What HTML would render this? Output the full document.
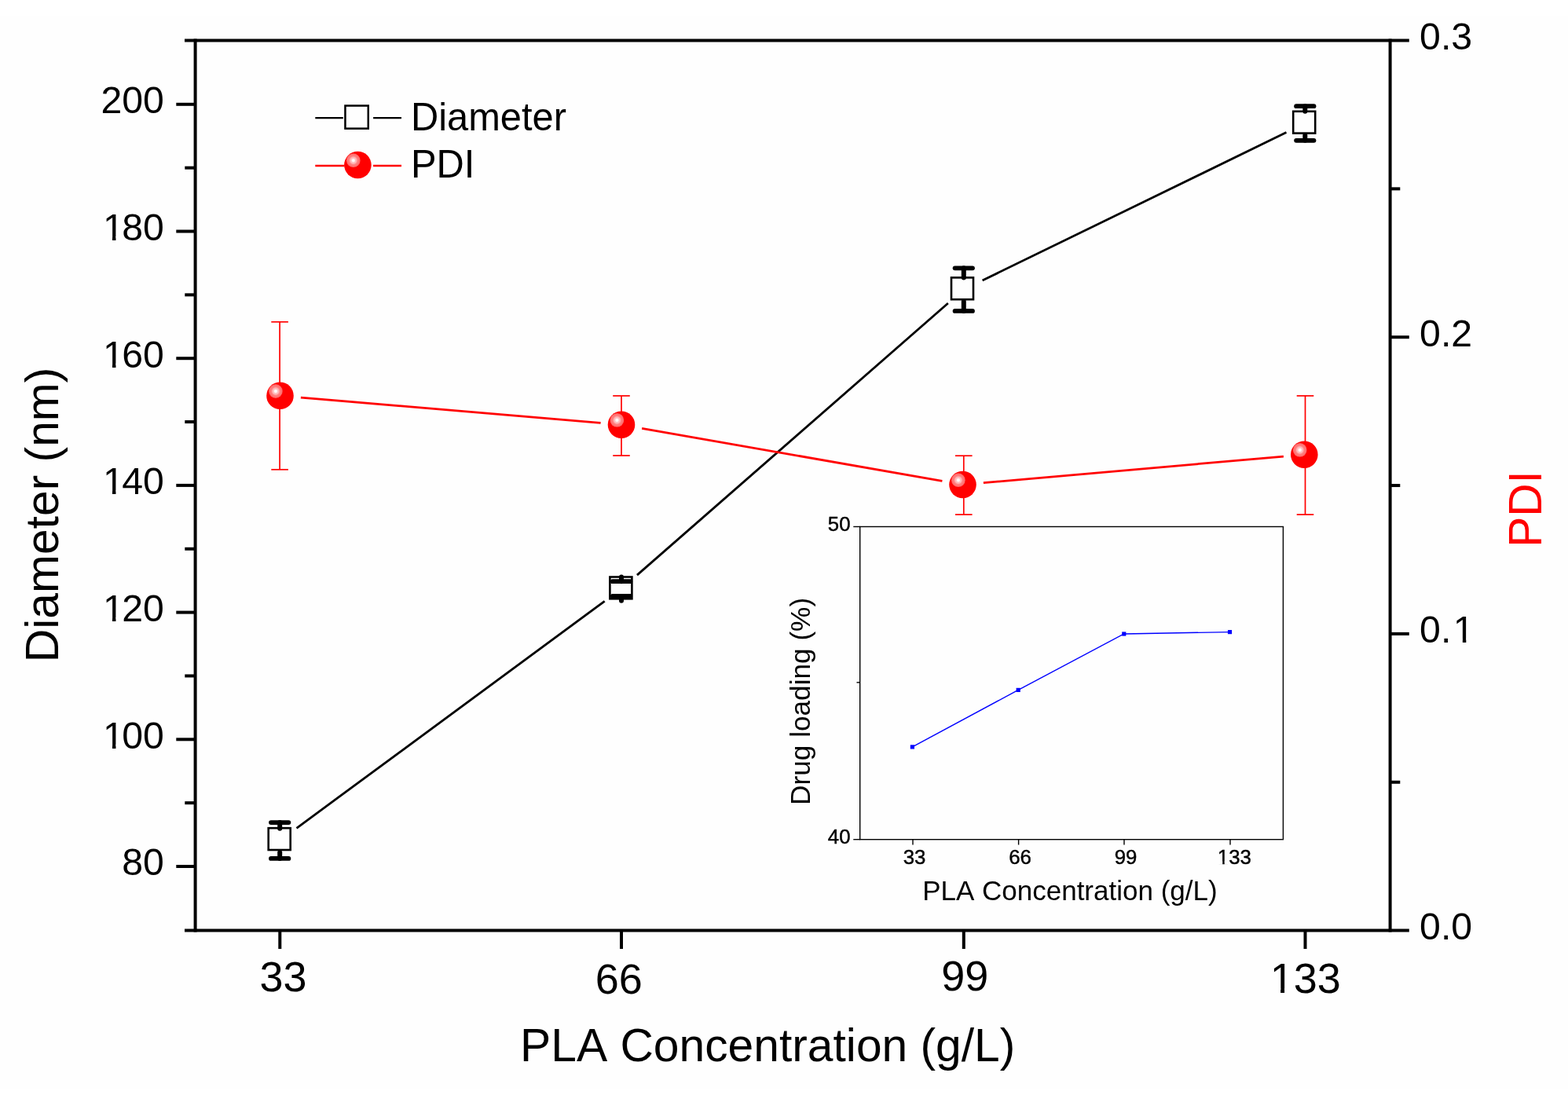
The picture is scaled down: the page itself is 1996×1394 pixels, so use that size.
<!DOCTYPE html>
<html><head><meta charset="utf-8"><title>PLA Concentration chart</title>
<style>
html,body{margin:0;padding:0;background:#fefefe;}
svg{display:block;}
text{font-family:"Liberation Sans", Arial, Helvetica, sans-serif;font-kerning:none;font-feature-settings:"kern" 0;}
</style></head>
<body>
<svg width="1996" height="1394" viewBox="0 0 1996 1394">
<defs>
<radialGradient id="hl" cx="0.5" cy="0.5" r="0.5">
<stop offset="0" stop-color="#ffffff"/>
<stop offset="0.18" stop-color="#fff4f4"/>
<stop offset="0.3" stop-color="#ffc4c4"/>
<stop offset="0.48" stop-color="#ffb0b0"/>
<stop offset="0.58" stop-color="#ff8484"/>
<stop offset="0.92" stop-color="#ff6c6c"/>
<stop offset="1" stop-color="#ff4a4a"/>
</radialGradient>
</defs>
<rect x="0" y="0" width="1996" height="1394" fill="#fefefe"/>
<rect x="0" y="0" width="1996" height="20" fill="#ffffff"/>
<rect x="0" y="1386" width="1996" height="8" fill="#ffffff"/>
<line x1="248.6" y1="49.5" x2="248.6" y2="1186.6" stroke="#000" stroke-width="4" stroke-linecap="butt"/>
<line x1="1769.6" y1="49.5" x2="1769.6" y2="1186.6" stroke="#000" stroke-width="4" stroke-linecap="butt"/>
<line x1="235" y1="51.5" x2="1793.8" y2="51.5" stroke="#000" stroke-width="4" stroke-linecap="butt"/>
<line x1="235" y1="1184.6" x2="1793.8" y2="1184.6" stroke="#000" stroke-width="4" stroke-linecap="butt"/>
<line x1="224.3" y1="1103" x2="248.6" y2="1103" stroke="#000" stroke-width="4" stroke-linecap="butt"/>
<line x1="224.3" y1="941.3" x2="248.6" y2="941.3" stroke="#000" stroke-width="4" stroke-linecap="butt"/>
<line x1="224.3" y1="779.6" x2="248.6" y2="779.6" stroke="#000" stroke-width="4" stroke-linecap="butt"/>
<line x1="224.3" y1="617.9" x2="248.6" y2="617.9" stroke="#000" stroke-width="4" stroke-linecap="butt"/>
<line x1="224.3" y1="456.2" x2="248.6" y2="456.2" stroke="#000" stroke-width="4" stroke-linecap="butt"/>
<line x1="224.3" y1="294.5" x2="248.6" y2="294.5" stroke="#000" stroke-width="4" stroke-linecap="butt"/>
<line x1="224.3" y1="132.8" x2="248.6" y2="132.8" stroke="#000" stroke-width="4" stroke-linecap="butt"/>
<line x1="235.3" y1="1022.15" x2="248.6" y2="1022.15" stroke="#000" stroke-width="4" stroke-linecap="butt"/>
<line x1="235.3" y1="860.45" x2="248.6" y2="860.45" stroke="#000" stroke-width="4" stroke-linecap="butt"/>
<line x1="235.3" y1="698.75" x2="248.6" y2="698.75" stroke="#000" stroke-width="4" stroke-linecap="butt"/>
<line x1="235.3" y1="537.05" x2="248.6" y2="537.05" stroke="#000" stroke-width="4" stroke-linecap="butt"/>
<line x1="235.3" y1="375.35" x2="248.6" y2="375.35" stroke="#000" stroke-width="4" stroke-linecap="butt"/>
<line x1="235.3" y1="213.65" x2="248.6" y2="213.65" stroke="#000" stroke-width="4" stroke-linecap="butt"/>
<line x1="1769.6" y1="806.9" x2="1793.8" y2="806.9" stroke="#000" stroke-width="4" stroke-linecap="butt"/>
<line x1="1769.6" y1="429.2" x2="1793.8" y2="429.2" stroke="#000" stroke-width="4" stroke-linecap="butt"/>
<line x1="1769.6" y1="995.75" x2="1782.3" y2="995.75" stroke="#000" stroke-width="4" stroke-linecap="butt"/>
<line x1="1769.6" y1="618.05" x2="1782.3" y2="618.05" stroke="#000" stroke-width="4" stroke-linecap="butt"/>
<line x1="1769.6" y1="240.35" x2="1782.3" y2="240.35" stroke="#000" stroke-width="4" stroke-linecap="butt"/>
<line x1="356.3" y1="1184.6" x2="356.3" y2="1208" stroke="#000" stroke-width="4" stroke-linecap="butt"/>
<line x1="791" y1="1184.6" x2="791" y2="1208" stroke="#000" stroke-width="4" stroke-linecap="butt"/>
<line x1="1226.8" y1="1184.6" x2="1226.8" y2="1208" stroke="#000" stroke-width="4" stroke-linecap="butt"/>
<line x1="1661.5" y1="1184.6" x2="1661.5" y2="1208" stroke="#000" stroke-width="4" stroke-linecap="butt"/>
<text x="155.27" y="1114.3" font-size="48.2" text-anchor="start" fill="#000">80</text>
<text x="128.46" y="952.6" font-size="48.2" text-anchor="start" fill="#000" dx="2.5 -2.5 0">100</text>
<text x="128.46" y="790.9" font-size="48.2" text-anchor="start" fill="#000" dx="2.5 -2.5 0">120</text>
<text x="128.46" y="629.2" font-size="48.2" text-anchor="start" fill="#000" dx="2.5 -2.5 0">140</text>
<text x="128.46" y="467.5" font-size="48.2" text-anchor="start" fill="#000" dx="2.5 -2.5 0">160</text>
<text x="128.46" y="305.8" font-size="48.2" text-anchor="start" fill="#000" dx="2.5 -2.5 0">180</text>
<text x="128.46" y="144.1" font-size="48.2" text-anchor="start" fill="#000">200</text>
<text x="1807.12" y="1195.95" font-size="48.2" text-anchor="start" fill="#000">0.0</text>
<text x="1807.12" y="818.25" font-size="48.2" text-anchor="start" fill="#000" dx="0 0 2.5">0.1</text>
<text x="1807.12" y="440.55" font-size="48.2" text-anchor="start" fill="#000">0.2</text>
<text x="1807.12" y="62.85" font-size="48.2" text-anchor="start" fill="#000">0.3</text>
<text x="330.48" y="1262.4" font-size="54" text-anchor="start" fill="#000">33</text>
<text x="757.73" y="1264.7" font-size="54" text-anchor="start" fill="#000">66</text>
<text x="1198.23" y="1261.4" font-size="54" text-anchor="start" fill="#000">99</text>
<text x="1616.63" y="1263.5" font-size="54" text-anchor="start" fill="#000">133</text>
<text x="662.08" y="1350.6" font-size="58.75" text-anchor="start" fill="#000">PLA Concentration (g/L)</text>
<text transform="translate(74.2,843.3) rotate(-90)" font-size="58.8" text-anchor="start" fill="#000">Diameter (nm)</text>
<text transform="translate(1961.5,696.7) rotate(-90) scale(0.9804,1)" font-size="59.67" fill="#ff0000">PDI</text>
<line x1="401.3" y1="150.1" x2="436.8" y2="150.1" stroke="#000" stroke-width="2.2" stroke-linecap="butt"/>
<line x1="475.1" y1="150.1" x2="511" y2="150.1" stroke="#000" stroke-width="2.2" stroke-linecap="butt"/>
<rect x="439.45" y="134.55" width="29.3" height="29.1" fill="none" stroke="#000" stroke-width="2.5"/>
<line x1="401.3" y1="210.9" x2="438.5" y2="210.9" stroke="#ff0000" stroke-width="2.5" stroke-linecap="butt"/>
<line x1="475.1" y1="210.9" x2="511" y2="210.9" stroke="#ff0000" stroke-width="2.5" stroke-linecap="butt"/>
<text transform="translate(523,166.4) scale(0.9804,1)" font-size="49.78" fill="#000">Diameter</text>
<text transform="translate(523,226) scale(0.9804,1)" font-size="49.78" fill="#000">PDI</text>
<rect x="1094.7" y="670.5" width="538.7" height="398.2" fill="none" stroke="#000" stroke-width="1.4"/>
<line x1="1086.3" y1="670.5" x2="1094.7" y2="670.5" stroke="#000" stroke-width="1.4" stroke-linecap="butt"/>
<line x1="1086.3" y1="1068.7" x2="1094.7" y2="1068.7" stroke="#000" stroke-width="1.4" stroke-linecap="butt"/>
<line x1="1090.5" y1="868.8" x2="1094.7" y2="868.8" stroke="#000" stroke-width="1.4" stroke-linecap="butt"/>
<line x1="1162" y1="1068.7" x2="1162" y2="1075.5" stroke="#000" stroke-width="1.4" stroke-linecap="butt"/>
<line x1="1296.6" y1="1068.7" x2="1296.6" y2="1075.5" stroke="#000" stroke-width="1.4" stroke-linecap="butt"/>
<line x1="1431" y1="1068.7" x2="1431" y2="1075.5" stroke="#000" stroke-width="1.4" stroke-linecap="butt"/>
<line x1="1566" y1="1068.7" x2="1566" y2="1075.5" stroke="#000" stroke-width="1.4" stroke-linecap="butt"/>
<text x="1082.5" y="675.6" font-size="25.8" text-anchor="end" fill="#000" stroke="#000" stroke-width="0.45">50</text>
<text x="1082.5" y="1073.7" font-size="25.8" text-anchor="end" fill="#000" stroke="#000" stroke-width="0.45">40</text>
<text x="1149.73" y="1099.8" font-size="25.8" text-anchor="start" fill="#000" stroke="#000" stroke-width="0.45">33</text>
<text x="1284.16" y="1099.8" font-size="25.8" text-anchor="start" fill="#000" stroke="#000" stroke-width="0.45">66</text>
<text x="1418.66" y="1099.8" font-size="25.8" text-anchor="start" fill="#000" stroke="#000" stroke-width="0.45">99</text>
<text x="1549.86" y="1099.8" font-size="25.8" text-anchor="start" fill="#000" stroke="#000" stroke-width="0.45">133</text>
<text x="1174.13" y="1145.7" font-size="35" text-anchor="start" fill="#000">PLA Concentration (g/L)</text>
<text transform="translate(1030.6,1024.9) rotate(-90)" font-size="35.2" text-anchor="start" fill="#000">Drug loading (%)</text>
<polyline points="1161.4,950.9 1296.2,878.4 1430.8,807 1565.5,804.6" fill="none" stroke="#0000ff" stroke-width="1.4"/>
<rect x="1158.8" y="948.3" width="5.2" height="5.2" fill="#0000ff"/>
<rect x="1293.6" y="875.8" width="5.2" height="5.2" fill="#0000ff"/>
<rect x="1428.2" y="804.4" width="5.2" height="5.2" fill="#0000ff"/>
<rect x="1562.9" y="802" width="5.2" height="5.2" fill="#0000ff"/>
<line x1="377.53" y1="1054.28" x2="769.67" y2="765.32" stroke="#000" stroke-width="2.8" stroke-linecap="butt"/>
<line x1="810.95" y1="732.16" x2="1206.85" y2="386.04" stroke="#000" stroke-width="2.8" stroke-linecap="butt"/>
<line x1="1250.62" y1="357" x2="1637.48" y2="168.6" stroke="#000" stroke-width="2.8" stroke-linecap="butt"/>
<rect x="341.7" y="1054.2" width="28" height="27.8" fill="none" stroke="#000" stroke-width="2.6"/>
<line x1="356.2" y1="1047.1" x2="356.2" y2="1054.8" stroke="#000" stroke-width="6" stroke-linecap="round"/>
<line x1="356.2" y1="1092.9" x2="356.2" y2="1085.2" stroke="#000" stroke-width="6" stroke-linecap="round"/>
<line x1="345" y1="1047.1" x2="367.4" y2="1047.1" stroke="#000" stroke-width="5.8" stroke-linecap="round"/>
<line x1="345" y1="1092.9" x2="367.4" y2="1092.9" stroke="#000" stroke-width="5.8" stroke-linecap="round"/>
<rect x="776.4" y="734.5" width="28" height="27.8" fill="none" stroke="#000" stroke-width="2.6"/>
<line x1="791" y1="740.2" x2="791" y2="734.4" stroke="#000" stroke-width="6" stroke-linecap="round"/>
<line x1="791" y1="759" x2="791" y2="764.8" stroke="#000" stroke-width="6" stroke-linecap="round"/>
<line x1="779.8" y1="740.2" x2="802.2" y2="740.2" stroke="#000" stroke-width="5.8" stroke-linecap="round"/>
<line x1="779.8" y1="759" x2="802.2" y2="759" stroke="#000" stroke-width="5.8" stroke-linecap="round"/>
<rect x="1211" y="353.4" width="28" height="27.8" fill="none" stroke="#000" stroke-width="2.6"/>
<line x1="1226.8" y1="341.3" x2="1226.8" y2="353.4" stroke="#000" stroke-width="6" stroke-linecap="round"/>
<line x1="1226.8" y1="395.9" x2="1226.8" y2="383.8" stroke="#000" stroke-width="6" stroke-linecap="round"/>
<line x1="1215.6" y1="341.3" x2="1238" y2="341.3" stroke="#000" stroke-width="5.8" stroke-linecap="round"/>
<line x1="1215.6" y1="395.9" x2="1238" y2="395.9" stroke="#000" stroke-width="5.8" stroke-linecap="round"/>
<rect x="1646.2" y="141.8" width="28" height="27.8" fill="none" stroke="#000" stroke-width="2.6"/>
<line x1="1661.3" y1="135.2" x2="1661.3" y2="141.8" stroke="#000" stroke-width="6" stroke-linecap="round"/>
<line x1="1661.3" y1="178.8" x2="1661.3" y2="172.2" stroke="#000" stroke-width="6" stroke-linecap="round"/>
<line x1="1650.1" y1="135.2" x2="1672.5" y2="135.2" stroke="#000" stroke-width="5.8" stroke-linecap="round"/>
<line x1="1650.1" y1="178.8" x2="1672.5" y2="178.8" stroke="#000" stroke-width="5.8" stroke-linecap="round"/>
<line x1="382.9" y1="506.04" x2="764.6" y2="538.46" stroke="#ff0000" stroke-width="2.8" stroke-linecap="butt"/>
<line x1="817.1" y1="545.28" x2="1199.4" y2="612.42" stroke="#ff0000" stroke-width="2.8" stroke-linecap="butt"/>
<line x1="1251.9" y1="614.67" x2="1633.9" y2="581.03" stroke="#ff0000" stroke-width="2.8" stroke-linecap="butt"/>
<line x1="356.1" y1="409.8" x2="356.1" y2="597.8" stroke="#ff0000" stroke-width="1.7" stroke-linecap="butt"/>
<line x1="345.3" y1="409.8" x2="366.9" y2="409.8" stroke="#ff0000" stroke-width="1.7" stroke-linecap="butt"/>
<line x1="345.3" y1="597.8" x2="366.9" y2="597.8" stroke="#ff0000" stroke-width="1.7" stroke-linecap="butt"/>
<line x1="791" y1="503.9" x2="791" y2="580" stroke="#ff0000" stroke-width="1.7" stroke-linecap="butt"/>
<line x1="780.2" y1="503.9" x2="801.8" y2="503.9" stroke="#ff0000" stroke-width="1.7" stroke-linecap="butt"/>
<line x1="780.2" y1="580" x2="801.8" y2="580" stroke="#ff0000" stroke-width="1.7" stroke-linecap="butt"/>
<line x1="1226.8" y1="580.2" x2="1226.8" y2="655.1" stroke="#ff0000" stroke-width="1.7" stroke-linecap="butt"/>
<line x1="1216" y1="580.2" x2="1237.6" y2="580.2" stroke="#ff0000" stroke-width="1.7" stroke-linecap="butt"/>
<line x1="1216" y1="655.1" x2="1237.6" y2="655.1" stroke="#ff0000" stroke-width="1.7" stroke-linecap="butt"/>
<line x1="1661.5" y1="503.9" x2="1661.5" y2="655.1" stroke="#ff0000" stroke-width="1.7" stroke-linecap="butt"/>
<line x1="1650.7" y1="503.9" x2="1672.3" y2="503.9" stroke="#ff0000" stroke-width="1.7" stroke-linecap="butt"/>
<line x1="1650.7" y1="655.1" x2="1672.3" y2="655.1" stroke="#ff0000" stroke-width="1.7" stroke-linecap="butt"/>
<circle cx="356.5" cy="503.8" r="17.3" fill="#ff0000"/>
<circle cx="350.9" cy="498" r="8.9" fill="url(#hl)"/>
<circle cx="791" cy="540.7" r="17.3" fill="#ff0000"/>
<circle cx="785.4" cy="534.9" r="8.9" fill="url(#hl)"/>
<circle cx="1225.5" cy="617" r="17.3" fill="#ff0000"/>
<circle cx="1219.9" cy="611.2" r="8.9" fill="url(#hl)"/>
<circle cx="1660.3" cy="578.7" r="17.3" fill="#ff0000"/>
<circle cx="1654.7" cy="572.9" r="8.9" fill="url(#hl)"/>
<circle cx="455.4" cy="210" r="17.3" fill="#ff0000"/>
<circle cx="449.8" cy="204.2" r="8.9" fill="url(#hl)"/>
<rect x="133.46" y="947.8" width="9.53" height="5.8" fill="#fefefe"/>
<rect x="147.44" y="947.8" width="9.25" height="5.8" fill="#fefefe"/>
<rect x="133.46" y="786.1" width="9.53" height="5.8" fill="#fefefe"/>
<rect x="147.44" y="786.1" width="9.25" height="5.8" fill="#fefefe"/>
<rect x="133.46" y="624.4" width="9.53" height="5.8" fill="#fefefe"/>
<rect x="147.44" y="624.4" width="9.25" height="5.8" fill="#fefefe"/>
<rect x="133.46" y="462.7" width="9.53" height="5.8" fill="#fefefe"/>
<rect x="147.44" y="462.7" width="9.25" height="5.8" fill="#fefefe"/>
<rect x="133.46" y="301" width="9.53" height="5.8" fill="#fefefe"/>
<rect x="147.44" y="301" width="9.25" height="5.8" fill="#fefefe"/>
<rect x="1852.31" y="813.45" width="9.53" height="5.8" fill="#fefefe"/>
<rect x="1866.3" y="813.45" width="9.25" height="5.8" fill="#fefefe"/>
<rect x="1619.52" y="1258.27" width="10.59" height="6.23" fill="#fefefe"/>
<rect x="1635.08" y="1258.27" width="10.27" height="6.23" fill="#fefefe"/>
<rect x="1550.82" y="1096.67" width="5.42" height="4.13" fill="#fefefe"/>
<rect x="1558.73" y="1096.67" width="5.32" height="4.13" fill="#fefefe"/>
</svg>
</body></html>
